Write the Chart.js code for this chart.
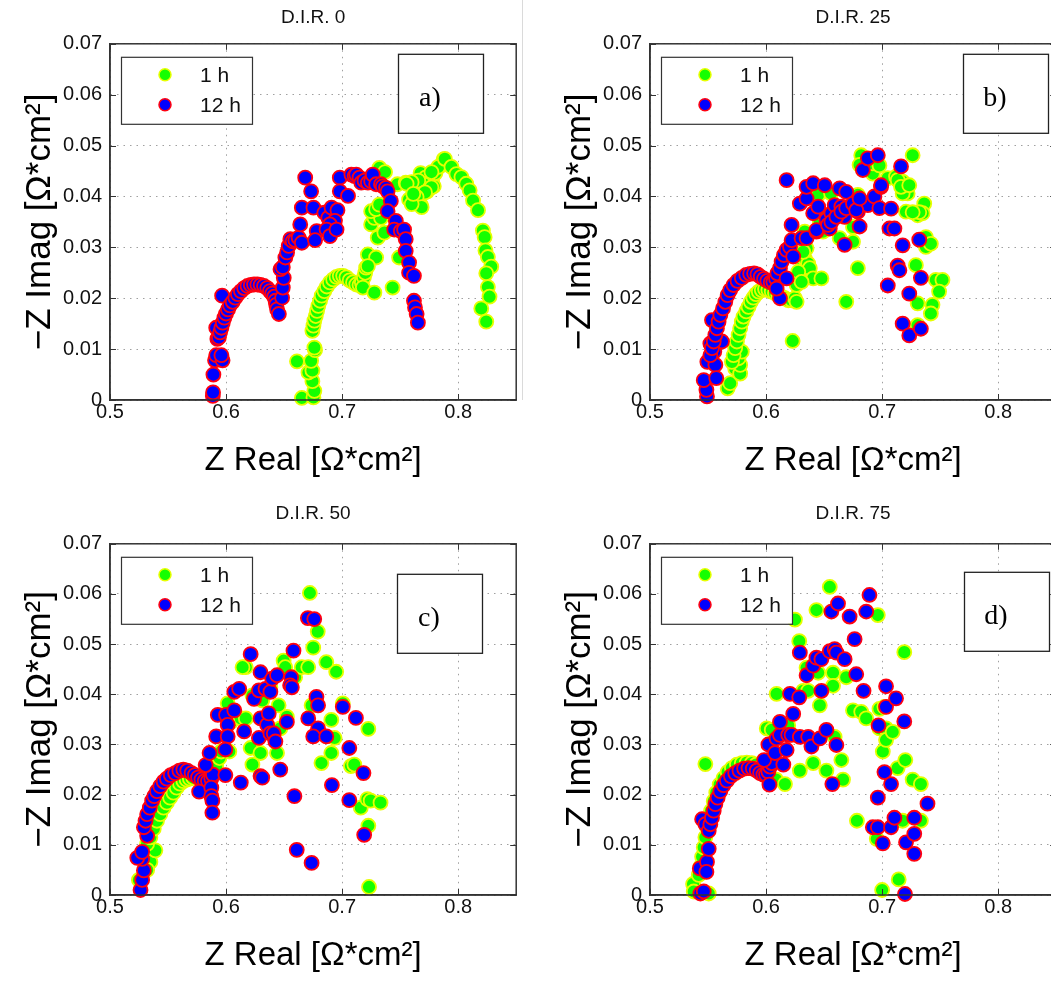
<!DOCTYPE html>
<html>
<head>
<meta charset="utf-8">
<script src="https://cdn.jsdelivr.net/npm/chart.js@4.4.1/dist/chart.umd.min.js"></script>
<style>
  html, body { margin: 0; padding: 0; background: #fff; }
  body { width: 1051px; height: 987px; overflow: hidden; position: relative; }
  canvas { position: absolute; }
  .divider { position: absolute; left: 522px; top: 0; width: 1px; height: 400px; background: #dadada; }
</style>
</head>
<body>
<canvas id="dir0"  width="525" height="490" style="left:0px;top:0px"></canvas>
<canvas id="dir25" width="525" height="490" style="left:540px;top:0px"></canvas>
<canvas id="dir50" width="525" height="485" style="left:0px;top:500px"></canvas>
<canvas id="dir75" width="525" height="485" style="left:540px;top:500px"></canvas>
<div class="divider"></div>
<script>
/*
 * Nyquist plots of the impedance spectra after 1 h and 12 h,
 * one panel per D.I.R. level.
 */

const xTicks = [0.5, 0.6, 0.7, 0.8];
const yTicks = [0, 0.01, 0.02, 0.03, 0.04, 0.05, 0.06, 0.07];
const seriesLabels = ['1 h', '12 h'];
const panelTitles = ['D.I.R. 0', 'D.I.R. 25', 'D.I.R. 50', 'D.I.R. 75'];
const panelTags = ['a)', 'b)', 'c)', 'd)'];

// [Z real, -Z imag] in Ohm*cm^2
const dir0_1h = [
  [0.6653,0.0004],[0.6611,0.0076],[0.6753,0.0005],[0.6761,0.0018],[0.6744,0.0037],[0.6710,0.0054],
  [0.6744,0.0058],[0.6733,0.0077],[0.6767,0.0098],[0.6761,0.0103],
  [0.6744,0.0136],[0.6753,0.0146],[0.6761,0.0156],[0.6773,0.0165],[0.6784,0.0175],[0.6795,0.0185],
  [0.6810,0.0195],[0.6824,0.0205],[0.6847,0.0214],[0.6869,0.0223],[0.6895,0.0231],[0.6923,0.0237],
  [0.6952,0.0242],[0.6980,0.0244],[0.7009,0.0244],[0.7037,0.0241],[0.7065,0.0235],[0.7094,0.0231],
  [0.7122,0.0227],[0.7150,0.0226],[0.7170,0.0231],[0.7188,0.0241],[0.7199,0.0250],[0.7207,0.0260],
  [0.7179,0.0221],[0.7278,0.0211],[0.7435,0.0221],[0.7222,0.0286],[0.7293,0.0280],[0.7222,0.0263],
  [0.7491,0.0280],[0.7250,0.0345],[0.7307,0.0319],[0.7364,0.0329],[0.7278,0.0358],[0.7335,0.0358],
  [0.7250,0.0371],[0.7293,0.0375],[0.7321,0.0384],
  [0.7321,0.0456],[0.7370,0.0448],[0.7477,0.0424],[0.7548,0.0427],[0.7577,0.0394],[0.7676,0.0384],
  [0.7676,0.0446],[0.7719,0.0437],[0.7776,0.0433],[0.7790,0.0420],[0.7804,0.0446],[0.7705,0.0424],
  [0.7648,0.0410],[0.7733,0.0410],[0.7847,0.0460],[0.7875,0.0473],[0.7828,0.0458],[0.7770,0.0448],
  [0.7656,0.0431],[0.7599,0.0428],[0.7556,0.0425],[0.7770,0.0418],[0.7714,0.0408],[0.7642,0.0399],
  [0.7685,0.0379],[0.7599,0.0385],[0.7613,0.0405],
  [0.7885,0.0474],[0.7942,0.0458],[0.7985,0.0444],[0.8028,0.0438],[0.8070,0.0425],[0.8099,0.0412],
  [0.8128,0.0392],[0.8171,0.0373],[0.8213,0.0333],[0.8228,0.0320],[0.8235,0.0294],[0.8256,0.0281],
  [0.8285,0.0262],[0.8242,0.0249],[0.8256,0.0222],[0.8270,0.0203],[0.8199,0.0180],[0.8242,0.0154]
];
const dir0_12h = [
  [0.5886,0.0008],[0.5888,0.0015],[0.5891,0.0050],[0.5905,0.0078],[0.5915,0.0088],[0.5970,0.0078],
  [0.5960,0.0088],[0.5915,0.0142],[0.5925,0.0120],[0.5966,0.0205],
  [0.5938,0.0123],[0.5949,0.0133],[0.5960,0.0142],[0.5972,0.0152],[0.5986,0.0162],[0.6000,0.0170],
  [0.6017,0.0178],[0.6034,0.0186],[0.6057,0.0193],[0.6080,0.0201],[0.6102,0.0208],[0.6128,0.0214],
  [0.6156,0.0220],[0.6185,0.0224],[0.6213,0.0226],[0.6241,0.0227],[0.6270,0.0227],[0.6298,0.0226],
  [0.6327,0.0224],[0.6355,0.0220],[0.6378,0.0214],[0.6398,0.0209],[0.6415,0.0203],[0.6426,0.0195],
  [0.6432,0.0187],[0.6440,0.0178],[0.6455,0.0169],
  [0.6483,0.0201],[0.6489,0.0221],[0.6497,0.0240],[0.6469,0.0257],[0.6489,0.0261],[0.6511,0.0280],
  [0.6526,0.0290],[0.6540,0.0303],[0.6554,0.0316],[0.6574,0.0312],[0.6597,0.0314],[0.6625,0.0319],
  [0.6653,0.0309],[0.6639,0.0345],[0.6653,0.0378],[0.6682,0.0437],[0.6733,0.0410],[0.6753,0.0378],
  [0.6781,0.0332],[0.6767,0.0314],[0.6847,0.0368],[0.6881,0.0358],[0.6909,0.0378],[0.6960,0.0373],
  [0.6938,0.0352],[0.6895,0.0345],[0.6866,0.0335],[0.6895,0.0322],[0.6952,0.0335],[0.6980,0.0437],
  [0.6980,0.0410],[0.7051,0.0401],[0.7080,0.0443],[0.7108,0.0440],[0.7122,0.0443],[0.7150,0.0437],
  [0.7165,0.0427],[0.7193,0.0431],[0.7222,0.0427],[0.7250,0.0430],[0.7264,0.0443],[0.7293,0.0424],
  [0.7335,0.0424],[0.7350,0.0420],[0.7378,0.0417],[0.7392,0.0410],[0.7420,0.0391],[0.7392,0.0371],
  [0.7463,0.0352],[0.7449,0.0335],[0.7506,0.0332],[0.7534,0.0335],[0.7548,0.0316],[0.7548,0.0293],
  [0.7577,0.0270],[0.7577,0.0250],[0.7619,0.0244],[0.7619,0.0195],[0.7628,0.0182],[0.7642,0.0169],
  [0.7653,0.0152]
];

const dir25_1h = [
  [0.5669,0.0023],[0.5691,0.0033],[0.5734,0.0062],[0.5777,0.0052],[0.5777,0.0069],[0.5763,0.0082],
  [0.5791,0.0095],
  [0.5706,0.0075],[0.5720,0.0088],[0.5734,0.0102],[0.5749,0.0115],[0.5763,0.0128],[0.5777,0.0141],
  [0.5791,0.0154],[0.5806,0.0164],[0.5829,0.0174],[0.5849,0.0183],[0.5869,0.0193],[0.5891,0.0201],
  [0.5914,0.0208],[0.5937,0.0213],[0.5963,0.0216],[0.5991,0.0218],[0.6020,0.0216],[0.6049,0.0213],
  [0.6077,0.0210],[0.6106,0.0206],[0.6134,0.0203],[0.6163,0.0200],[0.6191,0.0196],[0.6220,0.0196],
  [0.6249,0.0200],[0.6263,0.0193],
  [0.6229,0.0116],[0.6263,0.0226],[0.6291,0.0239],[0.6320,0.0265],[0.6334,0.0278],[0.6363,0.0268],
  [0.6377,0.0259],[0.6349,0.0298],[0.6334,0.0331],[0.6320,0.0291],[0.6406,0.0239],[0.6477,0.0239],
  [0.6277,0.0252],[0.6306,0.0232],
  [0.6463,0.0350],[0.6491,0.0331],[0.6634,0.0318],[0.6749,0.0311],[0.6691,0.0193],[0.6791,0.0259],
  [0.6449,0.0403],[0.6560,0.0406],[0.6506,0.0363],[0.6663,0.0363],[0.6677,0.0377],[0.6749,0.0340],
  [0.6791,0.0403],[0.6820,0.0481],[0.6806,0.0462],[0.6920,0.0445],[0.6920,0.0465],[0.7049,0.0436],
  [0.7120,0.0439],[0.7177,0.0429],[0.7206,0.0416],[0.7220,0.0406],[0.7177,0.0406],[0.7263,0.0481],
  [0.7363,0.0386],[0.7206,0.0370],[0.7306,0.0363],[0.7349,0.0367],[0.7291,0.0265],[0.7377,0.0301],
  [0.7463,0.0236],[0.7520,0.0236],[0.7491,0.0213],[0.7306,0.0190],[0.7434,0.0187],[0.7420,0.0170],
  [0.7306,0.0147],[0.7134,0.0432],[0.7163,0.0419],[0.7234,0.0422],[0.7320,0.0369],[0.7377,0.0320],
  [0.7420,0.0307],[0.6977,0.0461],[0.7263,0.0369]
];
const dir25_12h = [
  [0.5491,0.0007],[0.5486,0.0020],[0.5463,0.0039],[0.5494,0.0075],[0.5563,0.0069],[0.5571,0.0043],
  [0.5520,0.0111],[0.5554,0.0095],[0.5620,0.0115],[0.5534,0.0157],
  [0.5520,0.0088],[0.5534,0.0102],[0.5549,0.0115],[0.5563,0.0128],[0.5577,0.0141],[0.5591,0.0154],
  [0.5606,0.0167],[0.5629,0.0180],[0.5649,0.0193],[0.5669,0.0206],[0.5691,0.0216],[0.5720,0.0226],
  [0.5754,0.0234],[0.5791,0.0240],[0.5829,0.0246],[0.5863,0.0248],[0.5897,0.0249],[0.5926,0.0247],
  [0.5954,0.0242],[0.5983,0.0238],[0.6011,0.0234],[0.6040,0.0231],[0.6063,0.0232],[0.6086,0.0239],
  [0.6097,0.0249],[0.6120,0.0259],
  [0.6120,0.0200],[0.6177,0.0239],[0.6091,0.0219],
  [0.6134,0.0272],[0.6154,0.0285],[0.6177,0.0295],[0.6206,0.0301],[0.6234,0.0282],
  [0.6220,0.0314],[0.6220,0.0344],[0.6306,0.0318],[0.6349,0.0318],[0.6434,0.0331],[0.6177,0.0432],
  [0.6291,0.0386],[0.6349,0.0396],[0.6349,0.0419],[0.6406,0.0426],[0.6506,0.0422],[0.6406,0.0367],
  [0.6449,0.0380],[0.6434,0.0334],[0.6520,0.0354],[0.6549,0.0337],[0.6563,0.0367],[0.6591,0.0383],
  [0.6649,0.0380],[0.6677,0.0360],[0.6634,0.0416],[0.6691,0.0409],[0.6677,0.0305],[0.6777,0.0390],
  [0.6791,0.0370],[0.6806,0.0341],[0.6877,0.0383],[0.6934,0.0400],[0.6977,0.0377],[0.6991,0.0419],
  [0.6834,0.0452],[0.6877,0.0475],[0.6963,0.0481],
  [0.6534,0.0344],[0.6563,0.0350],[0.6606,0.0360],[0.6649,0.0370],[0.6691,0.0377],[0.6749,0.0386],
  [0.6777,0.0373],[0.6806,0.0396],
  [0.7163,0.0459],[0.6991,0.0422],[0.7077,0.0376],[0.7063,0.0337],[0.7106,0.0337],[0.7177,0.0304],
  [0.7320,0.0315],[0.7134,0.0264],[0.7149,0.0255],[0.7049,0.0225],[0.7334,0.0240],[0.7234,0.0209],
  [0.7177,0.0150],[0.7234,0.0127],[0.7334,0.0140]
];

const dir50_1h = [
  [0.5249,0.0030],[0.5348,0.0066],[0.5391,0.0089],[0.5320,0.0050],
  [0.5320,0.0102],[0.5348,0.0115],[0.5377,0.0132],[0.5405,0.0148],[0.5433,0.0161],[0.5462,0.0174],
  [0.5490,0.0184],[0.5518,0.0194],[0.5547,0.0204],[0.5575,0.0214],[0.5603,0.0222],[0.5632,0.0227],
  [0.5660,0.0230],[0.5688,0.0232],[0.5717,0.0234],[0.5759,0.0235],
  [0.5901,0.0243],[0.5915,0.0257],[0.5943,0.0273],[0.5958,0.0286],[0.6028,0.0286],[0.6014,0.0382],
  [0.6042,0.0345],[0.6085,0.0355],[0.6127,0.0352],[0.6170,0.0352],[0.6212,0.0293],[0.6227,0.0260],
  [0.6297,0.0283],[0.6227,0.0398],[0.6312,0.0388],[0.6382,0.0414],[0.6453,0.0378],[0.6439,0.0283],
  [0.6496,0.0467],[0.6510,0.0454],[0.6467,0.0332],[0.6524,0.0355],[0.6595,0.0434],[0.6652,0.0454],
  [0.6708,0.0454],[0.6737,0.0378],[0.6793,0.0326],[0.6822,0.0263],[0.6907,0.0349],[0.6935,0.0313],
  [0.6907,0.0283],[0.7006,0.0382],[0.7076,0.0257],[0.7105,0.0260],[0.7161,0.0174],[0.7218,0.0191],
  [0.7246,0.0188],[0.7331,0.0184],[0.7226,0.0138],[0.7226,0.0331],[0.7232,0.0016],[0.6949,0.0445],
  [0.6864,0.0464],[0.6751,0.0493],[0.6170,0.0454],[0.6142,0.0454],[0.6722,0.0602],[0.6790,0.0525]
];
const dir50_12h = [
  [0.5263,0.0010],[0.5277,0.0030],[0.5292,0.0049],[0.5277,0.0072],[0.5235,0.0074],[0.5277,0.0086],
  [0.5320,0.0118],
  [0.5292,0.0135],[0.5306,0.0148],[0.5320,0.0161],[0.5343,0.0174],[0.5363,0.0188],[0.5382,0.0197],
  [0.5405,0.0207],[0.5433,0.0217],[0.5462,0.0226],[0.5490,0.0232],[0.5524,0.0239],[0.5561,0.0243],
  [0.5598,0.0248],[0.5632,0.0250],[0.5666,0.0248],[0.5703,0.0243],[0.5731,0.0239],[0.5759,0.0234],
  [0.5788,0.0230],[0.5816,0.0227],[0.5844,0.0227],[0.5873,0.0232],[0.5887,0.0240],
  [0.5768,0.0206],[0.5873,0.0214],[0.5873,0.0197],[0.5882,0.0188],[0.5882,0.0164],[0.5824,0.0259],
  [0.5858,0.0283],[0.5915,0.0316],[0.5929,0.0359],[0.6000,0.0359],[0.6014,0.0339],[0.6014,0.0316],
  [0.5994,0.0290],[0.5994,0.0239],[0.6071,0.0405],[0.6113,0.0411],[0.6071,0.0368],[0.6127,0.0224],
  [0.6156,0.0326],[0.6241,0.0391],[0.6212,0.0480],[0.6297,0.0444],[0.6297,0.0352],[0.6283,0.0313],
  [0.6297,0.0237],[0.6312,0.0234],[0.6283,0.0408],[0.6340,0.0411],[0.6354,0.0339],[0.6382,0.0322],
  [0.6368,0.0362],[0.6382,0.0405],[0.6397,0.0431],[0.6439,0.0438],[0.6411,0.0322],[0.6425,0.0306],
  [0.6467,0.0250],[0.6524,0.0345],[0.6561,0.0434],[0.6552,0.0418],[0.6567,0.0414],[0.6581,0.0487],
  [0.6589,0.0197],[0.6609,0.0090],[0.6737,0.0064],[0.6708,0.0352],[0.6779,0.0395],[0.6793,0.0378],
  [0.6793,0.0332],[0.6751,0.0316],[0.6864,0.0316],[0.6912,0.0219],[0.7006,0.0375],[0.7062,0.0293],
  [0.7062,0.0189],[0.7119,0.0353],[0.7184,0.0243],[0.7190,0.0120],[0.6705,0.0552],[0.6760,0.0550]
];

const dir75_1h = [
  [0.5371,0.0022],[0.5377,0.0007],[0.5506,0.0003],[0.5420,0.0040],
  [0.5434,0.0056],[0.5449,0.0076],[0.5463,0.0095],[0.5477,0.0115],[0.5491,0.0135],[0.5506,0.0151],
  [0.5526,0.0168],[0.5549,0.0187],[0.5571,0.0204],[0.5600,0.0220],[0.5634,0.0233],[0.5669,0.0245],
  [0.5706,0.0253],[0.5749,0.0260],[0.5791,0.0263],[0.5834,0.0264],[0.5877,0.0263],[0.5914,0.0260],
  [0.5949,0.0254],[0.5983,0.0248],[0.6006,0.0240],
  [0.5477,0.0261],[0.6006,0.0332],[0.6049,0.0329],[0.6091,0.0401],[0.6086,0.0230],[0.6163,0.0221],
  [0.6191,0.0338],[0.6291,0.0248],[0.6249,0.0549],[0.6286,0.0506],[0.6320,0.0407],[0.6363,0.0407],
  [0.6349,0.0453],[0.6406,0.0263],[0.6434,0.0568],[0.6449,0.0443],[0.6463,0.0378],[0.6520,0.0248],
  [0.6549,0.0614],[0.6577,0.0443],[0.6577,0.0417],[0.6591,0.0315],[0.6649,0.0269],[0.6663,0.0230],
  [0.6691,0.0434],[0.6749,0.0368],[0.6820,0.0365],[0.6863,0.0352],[0.6783,0.0148],[0.6963,0.0558],
  [0.6977,0.0371],[0.7020,0.0375],[0.6977,0.0332],[0.7034,0.0332],[0.7006,0.0286],[0.7034,0.0309],
  [0.7091,0.0325],[0.7134,0.0253],[0.7200,0.0269],[0.7177,0.0148],[0.7334,0.0148],[0.7263,0.0230],
  [0.7334,0.0221],[0.7191,0.0484],[0.6954,0.0112],[0.7000,0.0010],[0.7143,0.0031]
];
const dir75_12h = [
  [0.5434,0.0003],[0.5463,0.0007],[0.5429,0.0053],[0.5491,0.0066],[0.5486,0.0046],[0.5506,0.0092],
  [0.5449,0.0151],[0.5477,0.0141],
  [0.5506,0.0128],[0.5520,0.0141],[0.5534,0.0154],[0.5549,0.0168],[0.5563,0.0181],[0.5583,0.0194],
  [0.5606,0.0207],[0.5634,0.0219],[0.5663,0.0228],[0.5697,0.0237],[0.5734,0.0243],[0.5771,0.0248],
  [0.5811,0.0252],[0.5849,0.0253],[0.5886,0.0252],[0.5920,0.0248],[0.5949,0.0243],[0.5977,0.0240],
  [0.6000,0.0240],[0.6020,0.0246],[0.6034,0.0256],[0.6049,0.0263],
  [0.6029,0.0220],[0.5983,0.0269],[0.6020,0.0300],[0.6077,0.0283],[0.6091,0.0312],[0.6120,0.0319],
  [0.6149,0.0260],[0.6177,0.0289],[0.6120,0.0345],[0.6191,0.0319],[0.6220,0.0319],[0.6291,0.0315],
  [0.6234,0.0361],[0.6206,0.0401],[0.6286,0.0394],[0.6291,0.0483],[0.6349,0.0438],[0.6363,0.0315],
  [0.6391,0.0296],[0.6406,0.0457],[0.6434,0.0473],[0.6477,0.0407],[0.6463,0.0312],[0.6520,0.0329],
  [0.6477,0.0470],[0.6549,0.0486],[0.6591,0.0490],[0.6606,0.0483],[0.6677,0.0470],[0.6563,0.0565],
  [0.6620,0.0581],[0.6606,0.0299],[0.6571,0.0221],[0.6720,0.0555],[0.6763,0.0510],[0.6777,0.0440],
  [0.6840,0.0407],[0.6863,0.0565],[0.6891,0.0598],[0.6969,0.0338],[0.7020,0.0245],[0.7077,0.0221],
  [0.6963,0.0194],[0.6920,0.0135],[0.6963,0.0135],[0.7006,0.0103],[0.7077,0.0135],[0.7106,0.0154],
  [0.7034,0.0416],[0.7034,0.0375],[0.7120,0.0392],[0.7191,0.0346],[0.7206,0.0105],[0.7277,0.0154],
  [0.7277,0.0122],[0.7277,0.0082],[0.7197,0.0002],[0.7391,0.0182]
];

// ---- styling ----
const FONT = '"Liberation Sans", Arial, Helvetica, sans-serif';
const SERIF = '"Liberation Serif", "Times New Roman", serif';
const AXIS_COLOR = '#333';
const MARKERS = [
  { face: '#14ff00', edge: '#e6ff00' },   // 1 h
  { face: '#0000ff', edge: '#ff0010' },   // 12 h
];
const TICK_LEN = 6;

// Box around the axes, inward ticks, the legend and the panel tag
const matlabAxes = {
  id: 'matlabAxes',
  afterDatasetsDraw(chart, args, opts) {
    const { ctx, chartArea: a, scales: { x, y } } = chart;
    ctx.save();

    ctx.strokeStyle = AXIS_COLOR;
    ctx.lineWidth = 1.5;
    ctx.strokeRect(a.left, a.top, a.right - a.left, a.bottom - a.top);

    ctx.lineWidth = 1;
    ctx.beginPath();
    x.ticks.forEach(t => {
      const px = Math.round(x.getPixelForValue(t.value)) + 0.5;
      ctx.moveTo(px, a.bottom); ctx.lineTo(px, a.bottom - TICK_LEN);
      ctx.moveTo(px, a.top);    ctx.lineTo(px, a.top + TICK_LEN);
    });
    y.ticks.forEach(t => {
      const py = Math.round(y.getPixelForValue(t.value)) + 0.5;
      ctx.moveTo(a.left, py);  ctx.lineTo(a.left + TICK_LEN, py);
      ctx.moveTo(a.right, py); ctx.lineTo(a.right - TICK_LEN, py);
    });
    ctx.stroke();

    // legend, top left inside the axes
    const lx = a.left + 11, ly = a.top + 13;
    ctx.fillStyle = '#fff';
    ctx.fillRect(lx, ly, 131, 67);
    ctx.strokeStyle = AXIS_COLOR;
    ctx.lineWidth = 1.2;
    ctx.strokeRect(lx + 0.5, ly + 0.5, 131, 67);
    chart.data.datasets.forEach((ds, k) => {
      const cy = ly + 18 + k * 30;
      ctx.beginPath();
      ctx.arc(lx + 44, cy, 6, 0, Math.PI * 2);
      ctx.fillStyle = ds.pointBackgroundColor;
      ctx.fill();
      ctx.lineWidth = 1.5;
      ctx.strokeStyle = ds.pointBorderColor;
      ctx.stroke();
      ctx.fillStyle = '#111';
      ctx.font = '21px ' + FONT;
      ctx.textAlign = 'left';
      ctx.textBaseline = 'middle';
      ctx.fillText(ds.label, lx + 79, cy + 1);
    });

    // panel tag in its own box
    const tx = a.left + opts.tagX, ty = a.top + opts.tagY;
    ctx.fillStyle = '#fff';
    ctx.fillRect(tx, ty, 85, 79);
    ctx.strokeStyle = '#222';
    ctx.lineWidth = 1.3;
    ctx.strokeRect(tx + 0.5, ty + 0.5, 85, 79);
    ctx.fillStyle = '#000';
    ctx.font = '28px ' + SERIF;
    ctx.textAlign = 'center';
    ctx.textBaseline = 'middle';
    ctx.fillText(opts.tag, tx + 32, ty + 45);

    ctx.restore();
  }
};

const PANELS = [
  { id: 'dir0',  series: [dir0_1h,  dir0_12h],  titlePad: { top: 6, bottom: 15 }, tagX: 288, tagY: 10 },
  { id: 'dir25', series: [dir25_1h, dir25_12h], titlePad: { top: 6, bottom: 15 }, tagX: 313, tagY: 10 },
  { id: 'dir50', series: [dir50_1h, dir50_12h], titlePad: { top: 2, bottom: 19 }, tagX: 287, tagY: 30 },
  { id: 'dir75', series: [dir75_1h, dir75_12h], titlePad: { top: 2, bottom: 19 }, tagX: 314, tagY: 28 },
];

function makePanel(p, i) {
  const ctx = document.getElementById(p.id).getContext('2d');
  return new Chart(ctx, {
    type: 'scatter',
    data: {
      datasets: p.series.map((pts, k) => ({
        label: seriesLabels[k],
        data: pts.map(([x, y]) => ({ x, y })),
        pointRadius: 7,
        pointHoverRadius: 7,
        pointBackgroundColor: MARKERS[k].face,
        pointBorderColor: MARKERS[k].edge,
        pointBorderWidth: 1.8,
        order: 1 - k,   // 12 h on top of 1 h
        clip: false,
      }))
    },
    options: {
      responsive: false,
      animation: false,
      events: [],
      layout: { padding: { left: 0, right: 7, top: 0, bottom: 0 } },
      plugins: {
        legend: { display: false },
        tooltip: { enabled: false },
        title: {
          display: true,
          fullSize: false,   // centred over the axes, not the canvas
          text: panelTitles[i],
          color: '#111',
          font: { family: FONT, size: 19, weight: 'normal' },
          padding: p.titlePad,
        },
        matlabAxes: { tag: panelTags[i], tagX: p.tagX, tagY: p.tagY },
      },
      scales: {
        x: {
          type: 'linear',
          min: 0.5,
          max: 0.85,
          afterBuildTicks: s => { s.ticks = xTicks.map(value => ({ value })); },
          afterFit: s => { s.height = 90; },
          grid: { color: '#a0a0a0', lineWidth: 1, drawTicks: false },
          border: { display: true, color: AXIS_COLOR, width: 1.5, dash: [1.5, 5] },
          ticks: {
            padding: 0,
            color: '#111',
            font: { family: FONT, size: 20 },
            maxRotation: 0,
            callback: v => v.toFixed(1),
          },
          title: {
            display: true,
            text: 'Z Real [Ω*cm²]',
            color: '#000',
            font: { family: FONT, size: 33 },
            padding: { top: 0, bottom: 9 },
          },
        },
        y: {
          type: 'linear',
          min: 0,
          max: 0.07,
          afterBuildTicks: s => { s.ticks = yTicks.map(value => ({ value })); },
          afterFit: s => { s.width = 110; },
          grid: { color: '#a0a0a0', lineWidth: 1, drawTicks: false },
          border: { display: true, color: AXIS_COLOR, width: 1.5, dash: [1.5, 5] },
          ticks: {
            padding: 8,
            color: '#111',
            font: { family: FONT, size: 20 },
            callback: v => (v === 0 ? '0' : v.toFixed(2)),
          },
          title: {
            display: true,
            text: '−Z Imag [Ω*cm²]',
            color: '#000',
            font: { family: FONT, size: 35 },
            padding: { top: 19, bottom: 0 },
          },
        },
      },
    },
    plugins: [matlabAxes],
  });
}

PANELS.forEach(makePanel);
</script>
</body>
</html>
